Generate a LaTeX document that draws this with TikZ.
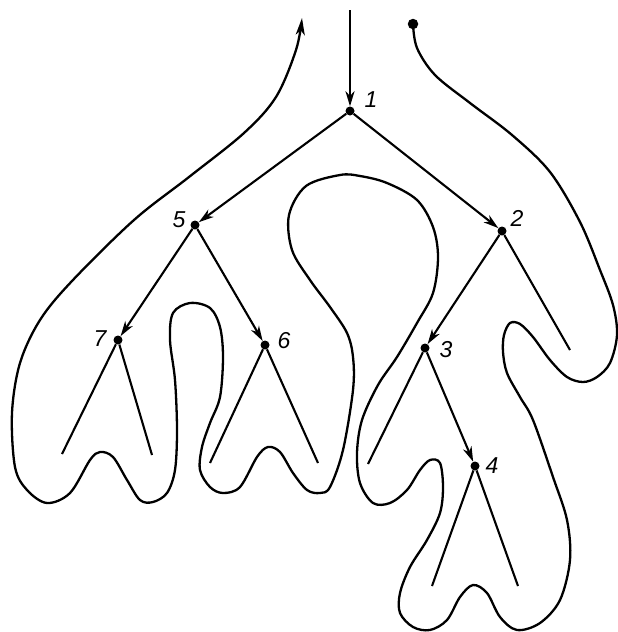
\documentclass[tikz,border=0pt]{standalone}
\usepackage{fontspec}
\setmainfont{Liberation Sans}
\usetikzlibrary{arrows.meta}
\tikzset{
  vert/.style={circle,fill=black,inner sep=0pt,minimum size=9pt},
  edge/.style={line width=2.1pt},
  dedge/.style={line width=2.1pt,-{Stealth[length=15pt,width=9pt,inset=4.5pt]}},
  lbl/.style={font=\fontsize{23}{23}\selectfont\itshape},
  contour/.style={line width=2.3pt}
}
\begin{document}
\begin{tikzpicture}[x=1pt,y=-1pt]
\useasboundingbox (0,0) rectangle (618,632);
% tree vertices
\node[vert] (n1) at (350,111) {};
\node[vert] (n5) at (195,225) {};
\node[vert] (n2) at (502,231) {};
\node[vert] (n7) at (118,340) {};
\node[vert] (n6) at (265,345) {};
\node[vert] (n3) at (425,348) {};
\node[vert] (n4) at (475,466) {};
\coordinate (top) at (350,10);
\coordinate (l7a) at (62,454);
\coordinate (l7b) at (152,455);
\coordinate (l6a) at (210,463);
\coordinate (l6b) at (318,463);
\coordinate (l2b) at (570,350);
\coordinate (l3a) at (368,464);
\coordinate (l4a) at (432,586);
\coordinate (l4b) at (518,586);
% labels
\node[lbl] (t1) at (371,100) {1};
\node[lbl] (t5) at (179,220) {5};
\node[lbl] (t2) at (517,218) {2};
\node[lbl] (t7) at (100,339) {7};
\node[lbl] (t6) at (284,341) {6};
\node[lbl] (t3) at (446,350) {3};
\node[lbl] (t4) at (492,466) {4};
% edges
\draw[dedge] (top) -- (n1);
\draw[dedge] (n1) -- (n5);
\draw[dedge] (n1) -- (n2);
\draw[dedge] (n5) -- (n7);
\draw[dedge] (n5) -- (n6);
\draw[dedge] (n2) -- (n3);
\draw[dedge] (n3) -- (n4);
\draw[edge] (n7) -- (l7a);
\draw[edge] (n7) -- (l7b);
\draw[edge] (n6) -- (l6a);
\draw[edge] (n6) -- (l6b);
\draw[edge] (n2) -- (l2b);
\draw[edge] (n3) -- (l3a);
\draw[edge] (n4) -- (l4a);
\draw[edge] (n4) -- (l4b);
% contour walk
\node[vert,minimum size=10.5pt] (start) at (413,24) {};
\coordinate (finish) at (302,18);
\draw[contour,-{Stealth[length=17pt,width=9pt,inset=4.5pt]}] plot[smooth,tension=0.55] coordinates {
(413,24) (417,48) (435,75) (470,103) (512,135) (550,172) (580,222) (600,270)
(613,305) (617,335) (610,363) (597,377) (583,382) (567,377) (550,360) (533,337)
(520,324) (510,323) (504,335) (503,352) (507,373) (520,397) (533,420) (553,477)
(567,520) (570,560) (560,600) (540,623) (517,630) (500,617) (487,593) (473,585)
(460,597) (447,620) (430,630) (413,627) (400,613) (400,593) (410,567) (427,540)
(440,513) (443,487) (440,463) (430,460) (420,470) (407,490) (390,503) (373,503)
(360,483) (357,453) (362,420) (378,385) (397,357) (417,323) (433,293) (438,257)
(433,227) (417,200) (387,183) (360,176) (340,175) (306,186) (289,215) (292,250)
(310,280) (330,307) (347,333) (353,357) (353,390) (343,450) (330,487) (320,493)
(307,490) (293,473) (280,452) (268,447) (257,457) (240,487) (223,493) (210,487)
(200,470) (202,447) (210,423) (220,397) (223,357) (220,327) (210,308) (190,303)
(173,313) (170,340) (175,380) (177,430) (175,470) (167,493) (153,502) (140,500)
(127,480) (113,457) (100,452) (90,460) (70,493) (47,503) (27,490) (15,467)
(12,413) (20,363) (40,320) (72,281) (134,220) (189,177) (244,133) (276,97)
(296,50) (302,18)};
\end{tikzpicture}
\end{document}
